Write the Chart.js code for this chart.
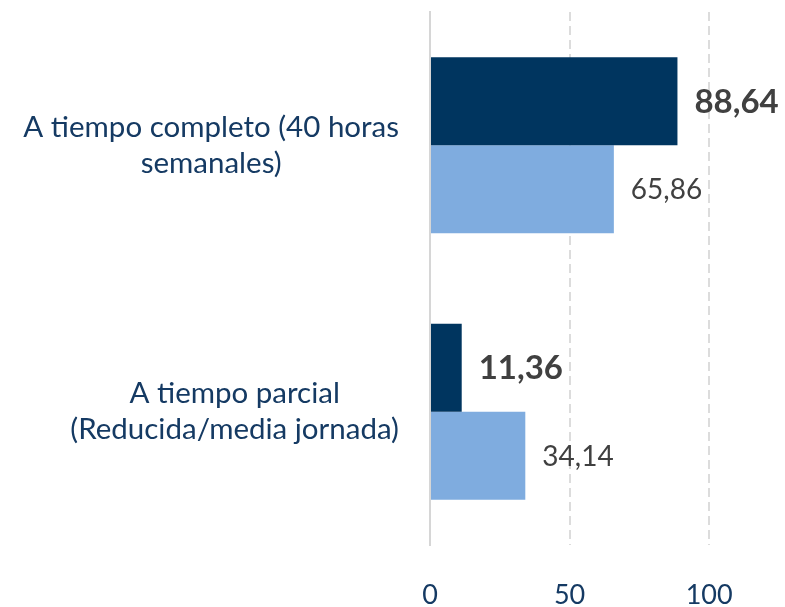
<!DOCTYPE html>
<html>
<head>
<meta charset="utf-8">
<script src="https://cdn.jsdelivr.net/npm/chart.js@4"></script>
<style>
  html, body { margin: 0; padding: 0; background: #fff; }
  #wrap { width: 785px; height: 607px; }
</style>
</head>
<body>
<div id="wrap"><canvas id="barChart" width="785" height="607"></canvas></div>
<script>
// data
const categories = [
    ['A tiempo completo (40 horas', 'semanales)'],
    ['A tiempo parcial', '(Reducida/media jornada)']
];
const seriesDark = [88.64, 11.36];
const seriesLight = [65.86, 34.14];
const tickValues = [0, 50, 100];

const labelFont = 'Lato, "Open Sans", sans-serif';
const navyText = '#153a63';

function fmt(v) {
    return v.toFixed(2).replace('.', ',');
}

// value labels at the end of each bar
const valueLabels = {
    id: 'valueLabels',
    afterDatasetsDraw(chart) {
        const ctx = chart.ctx;
        ctx.save();
        ctx.textBaseline = 'middle';
        ctx.textAlign = 'left';
        ctx.fillStyle = '#404040';
        chart.data.datasets.forEach((ds, i) => {
            const meta = chart.getDatasetMeta(i);
            meta.data.forEach((bar, j) => {
                ctx.font = i === 0 ? 'bold 33px ' + labelFont : '28px ' + labelFont;
                ctx.fillText(fmt(ds.data[j]), bar.x + 17, bar.y + 1);
            });
        });
        ctx.restore();
    }
};

// category labels: block right aligned, lines centred inside the block
const categoryLabels = {
    id: 'categoryLabels',
    afterDraw(chart) {
        const ctx = chart.ctx;
        const yScale = chart.scales.y;
        const right = chart.chartArea.left - 31;
        const lineH = 36;
        ctx.save();
        ctx.font = '29.5px ' + labelFont;
        ctx.fillStyle = navyText;
        ctx.textAlign = 'center';
        ctx.textBaseline = 'middle';
        categories.forEach((lines, i) => {
            const yc = yScale.getPixelForValue(i);
            const w = Math.max(...lines.map(l => ctx.measureText(l).width));
            const cx = right - w / 2;
            lines.forEach((l, k) => {
                ctx.fillText(l, cx, yc + (k - (lines.length - 1) / 2) * lineH);
            });
        });
        ctx.restore();
    }
};

new Chart(document.getElementById('barChart').getContext('2d'), {
    type: 'bar',
    data: {
        labels: categories.map(c => c.join(' ')),
        datasets: [{
            data: seriesDark,
            backgroundColor: '#00355f',
            borderWidth: 0
        }, {
            data: seriesLight,
            backgroundColor: '#7facdf',
            borderWidth: 0
        }]
    },
    options: {
        indexAxis: 'y',
        responsive: false,
        animation: false,
        categoryPercentage: 0.66,
        barPercentage: 1,
        layout: { padding: { top: 12, right: 20, left: 0, bottom: 0 } },
        plugins: {
            legend: { display: false },
            tooltip: { enabled: false }
        },
        scales: {
            x: {
                min: 0,
                max: 120,
                afterBuildTicks(axis) {
                    axis.ticks = tickValues.map(v => ({ value: v }));
                },
                afterFit(axis) { axis.height = 62; },
                border: { display: false, dash: [9, 5] },
                grid: {
                    drawTicks: false,
                    lineWidth: 2,
                    color: '#dcdcdc'
                },
                ticks: {
                    padding: 34,
                    color: navyText,
                    font: { family: labelFont, size: 27 }
                }
            },
            y: {
                afterFit(axis) { axis.width = 430; },
                border: { display: true, color: '#d6d6d6', width: 2 },
                grid: { display: false },
                ticks: { display: false }
            }
        }
    },
    plugins: [valueLabels, categoryLabels]
});
</script>
</body>
</html>
